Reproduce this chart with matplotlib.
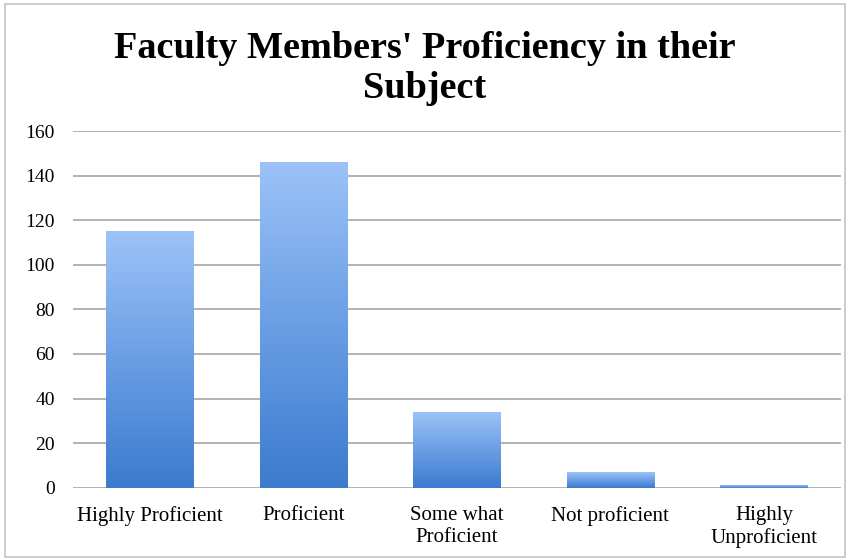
import matplotlib.pyplot as plt
import numpy as np
from matplotlib.colors import LinearSegmentedColormap
from matplotlib.patches import Rectangle

categories = ['Highly Proficient', 'Proficient', 'Some what\nProficient',
              'Not proficient', 'Highly\nUnproficient']
counts = [115, 146, 34, 7, 1]
yticks = [0, 20, 40, 60, 80, 100, 120, 140, 160]

plt.rcParams['font.family'] = ['Liberation Serif', 'DejaVu Serif']

fig = plt.figure(figsize=(8.5, 5.6), dpi=100)
ax = fig.add_axes([0.086, 0.129, 0.903, 0.637])

# outer chart frame
fig.patches.append(Rectangle((0.006, 0.006), 0.988, 0.986, transform=fig.transFigure,
                             fill=False, edgecolor='#C4C4C4', linewidth=1.2))

x = np.arange(len(categories))
bars = ax.bar(x, counts, width=0.57, color='none', edgecolor='none', zorder=3)

# vertical gradient per bar: dark blue at base, light blue at top
cmap = LinearSegmentedColormap.from_list('grad', ['#3C7BCE', '#6A9EE4', '#9CC3F8'])
grad = np.linspace(0, 1, 256).reshape(-1, 1)
for b in bars:
    bx, bw, bh = b.get_x(), b.get_width(), b.get_height()
    ax.imshow(grad, cmap=cmap, origin='lower', aspect='auto',
              extent=[bx, bx + bw, 0, bh], zorder=3, interpolation='bicubic')

ax.set_xlim(-0.5, len(categories) - 0.5)
ax.set_ylim(0, 160)
ax.set_yticks(yticks)
ax.set_xticks(x)
ax.set_xticklabels(categories, fontsize=15, linespacing=1.2)
ax.tick_params(axis='y', labelsize=14, length=0, pad=13)
ax.tick_params(axis='x', length=0, pad=13)
ax.grid(axis='y', color='#9E9E9E', linewidth=1.1, zorder=0)
ax.set_axisbelow(True)
for s in ax.spines.values():
    s.set_visible(False)

fig.text(0.5, 0.825, "Faculty Members' Proficiency in their\nSubject",
         ha='center', va='baseline', fontsize=27.5, fontweight='bold', linespacing=1.2)

plt.savefig('out.png', dpi=100)
